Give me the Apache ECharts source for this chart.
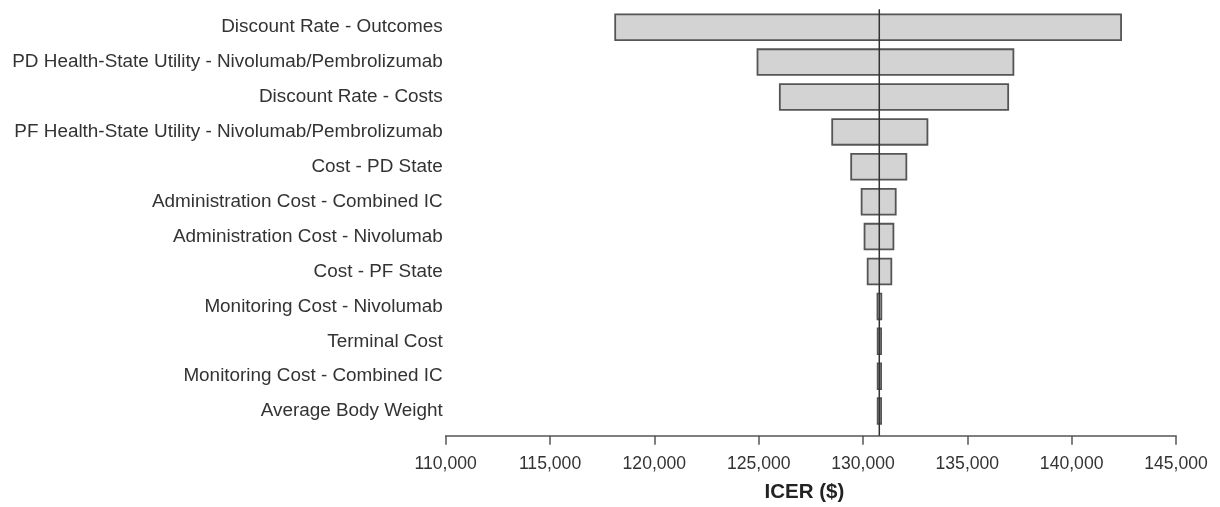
<!DOCTYPE html>
<html>
<head>
<meta charset="utf-8">
<script src="https://cdn.jsdelivr.net/npm/echarts@6/dist/echarts.min.js"></script>
<style>html,body{margin:0;padding:0;background:#fff;}#c{width:1220px;height:507px;}</style>
</head>
<body>
<div id="c"></div>
<script>
const categories = [
  'Discount Rate - Outcomes',
  'PD Health-State Utility - Nivolumab/Pembrolizumab',
  'Discount Rate - Costs',
  'PF Health-State Utility - Nivolumab/Pembrolizumab',
  'Cost - PD State',
  'Administration Cost - Combined IC',
  'Administration Cost - Nivolumab',
  'Cost - PF State',
  'Monitoring Cost - Nivolumab',
  'Terminal Cost',
  'Monitoring Cost - Combined IC',
  'Average Body Weight'
];
const lowValues  = [118080, 124900, 125970, 128480, 129390, 129890, 130030, 130180, 130650, 130660, 130660, 130660];
const highValues = [142410, 137250, 137000, 133130, 132120, 131610, 131500, 131400, 130920, 130910, 130910, 130910];
const baseCase = 130780;
const xMin = 110000, xMax = 145000, xStep = 5000;
const axisTitle = 'ICER ($)';

const rangeValues = highValues.map((h, i) => h - lowValues[i]);
const font = '"Liberation Sans", Arial, sans-serif';

const chart = echarts.init(document.getElementById('c'), null, {renderer: 'canvas'});
chart.setOption({
  animation: false,
  backgroundColor: '#ffffff',
  grid: [
    {left: 445.7, right: 44, top: 9.75, height: 418.8, containLabel: false, outerBoundsMode: 'none'},
    {left: 445.7, right: 44, top: 9.3, height: 426.4, containLabel: false, outerBoundsMode: 'none'}
  ],
  xAxis: [
    {gridIndex: 0, type: 'value', min: xMin, max: xMax, interval: xStep, show: false},
    {gridIndex: 1, type: 'value', min: xMin, max: xMax, interval: xStep,
      axisLine: {show: true, lineStyle: {color: '#555', width: 1.5}},
      axisTick: {show: true, length: 9, lineStyle: {color: '#555', width: 1.5}},
      splitLine: {show: false},
      axisLabel: {margin: 19, fontSize: 17.6, color: '#333', fontFamily: font,
        formatter: v => v.toLocaleString('en-US')},
      name: axisTitle, nameLocation: 'middle', nameGap: 46,
      nameTextStyle: {fontSize: 20.5, fontWeight: 'bold', color: '#222', fontFamily: font, padding: [0, 13, 0, 0]}
    }
  ],
  yAxis: [
    {gridIndex: 0, type: 'category', data: categories, inverse: true,
      axisLine: {show: false}, axisTick: {show: false},
      axisLabel: {margin: 3, fontSize: 18.9, color: '#333', fontFamily: font}},
    {gridIndex: 1, type: 'value', min: 0, max: 1, show: false}
  ],
  series: [
    {type: 'bar', name: 'base', xAxisIndex: 0, yAxisIndex: 0, stack: 't',
      data: lowValues, barWidth: 27.5, itemStyle: {color: 'transparent', borderWidth: 0}, silent: true},
    {type: 'bar', name: 'range', xAxisIndex: 0, yAxisIndex: 0, stack: 't',
      data: rangeValues, barWidth: 27.5,
      itemStyle: {color: '#d3d3d3', borderColor: '#555', borderWidth: 1.8}},
    {type: 'line', xAxisIndex: 1, yAxisIndex: 1, data: [[baseCase, 0], [baseCase, 1]],
      symbol: 'none', lineStyle: {color: '#333', width: 1.5}, z: 10}
  ]
});
</script>
</body>
</html>
